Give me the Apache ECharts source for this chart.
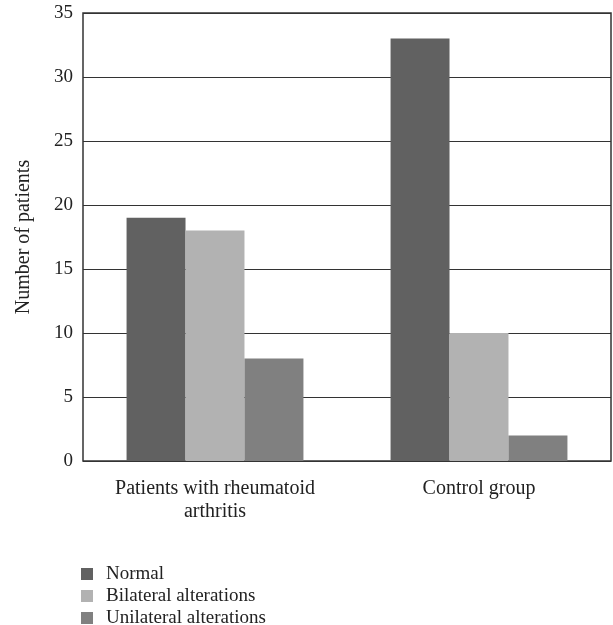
<!DOCTYPE html>
<html><head><meta charset="utf-8">
<script src="https://cdn.jsdelivr.net/npm/echarts@6/dist/echarts.min.js"></script>
<style>html,body{margin:0;padding:0;background:#fff}#c{width:613px;height:625px}</style>
</head><body><div id="c"></div>
<script>
var categories = ['Patients with rheumatoid\narthritis', 'Control group'];
var normal = [19, 33];
var bilateral = [18, 10];
var unilateral = [8, 2];
var yTicks = [0, 5, 10, 15, 20, 25, 30, 35];
var F = '"Liberation Serif", "DejaVu Serif", serif';
var chart = echarts.init(document.getElementById('c'));
chart.setOption({
  animation: false,
  textStyle: {fontFamily: F},
  grid: {left: 83, right: 2, top: 13, bottom: 164, show: true, borderColor: '#333', borderWidth: 1.5},
  legend: {
    orient: 'vertical', left: 76, top: 559, height: 90, itemWidth: 12, itemHeight: 12, itemGap: 2,
    icon: 'rect',
    textStyle: {fontFamily: F, fontSize: 19, color: '#222', lineHeight: 20, padding: [0, 0, 0, 8]},
    data: ['Normal', 'Bilateral alterations', 'Unilateral alterations']
  },
  xAxis: {
    type: 'category', data: categories,
    axisLine: {show: false}, axisTick: {show: false},
    axisLabel: {fontFamily: F, fontSize: 20, color: '#222', margin: 16, lineHeight: 23}
  },
  yAxis: {
    type: 'value', min: 0, max: 35, interval: 5,
    name: 'Number of patients', nameLocation: 'middle', nameGap: 49,
    nameTextStyle: {fontFamily: F, fontSize: 20, color: '#222'},
    axisLine: {show: false}, axisTick: {show: false},
    axisLabel: {fontFamily: F, fontSize: 19, color: '#222', margin: 10,
      formatter: function (v) { return yTicks.indexOf(v) >= 0 ? String(v) : ''; }},
    splitLine: {lineStyle: {color: '#333', width: 1}}
  },
  series: [
    {name: 'Normal', type: 'bar', data: normal, barGap: '0%', barCategoryGap: '33%', itemStyle: {color: '#616161'}},
    {name: 'Bilateral alterations', type: 'bar', data: bilateral, itemStyle: {color: '#b2b2b2'}},
    {name: 'Unilateral alterations', type: 'bar', data: unilateral, itemStyle: {color: '#808080'}}
  ]
});
</script></body></html>
